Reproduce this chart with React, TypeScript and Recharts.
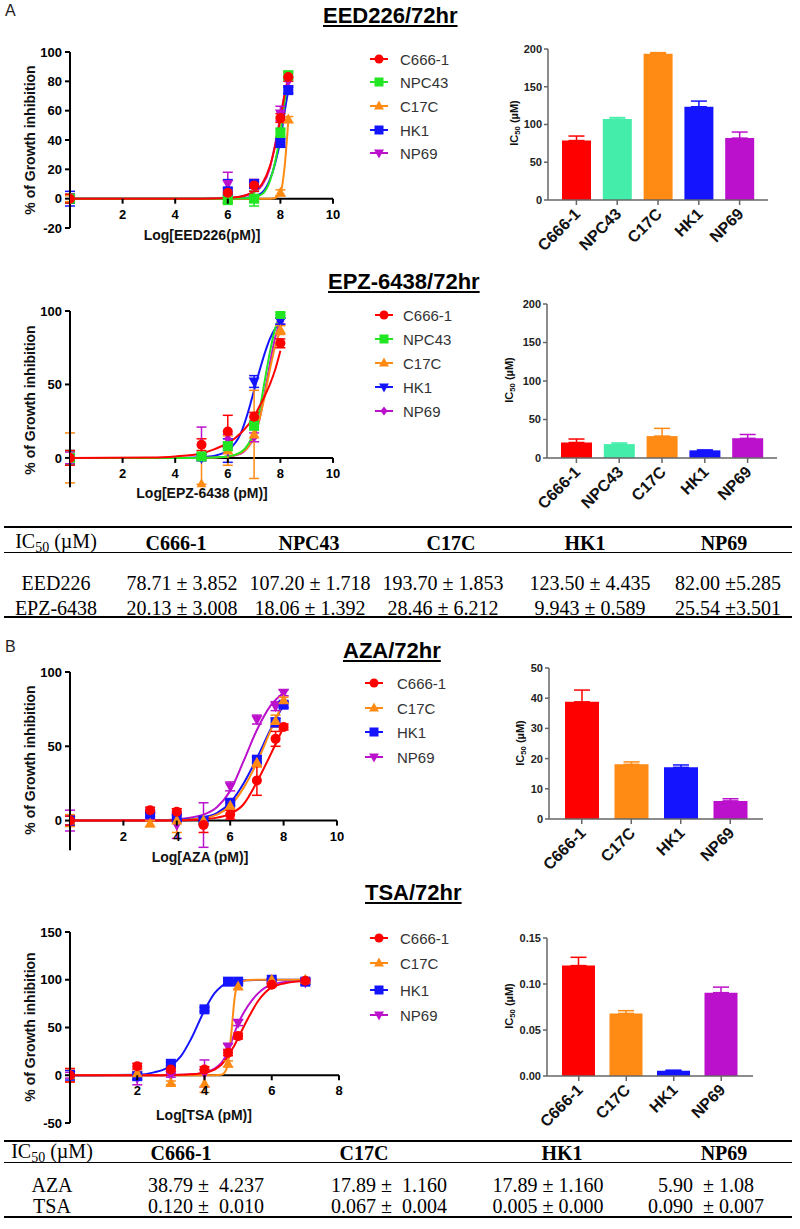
import React from 'react';
import { Bar, BarChart, Cell, ComposedChart, ErrorBar, Line, ReferenceLine, Scatter, XAxis, YAxis } from 'recharts';

const SANS = "Arial, 'Liberation Sans', sans-serif";
const SERIF = "'Times New Roman', 'Liberation Serif', serif";

const RED = '#ff0000';
const GREEN = '#22e622';
const MINT = '#44eeaa';
const ORANGE = '#ff8a14';
const BLUE = '#1414ff';
const PURPLE = '#bb11cc';
const AXIS_GREY = '#666666';

// ---- EED226 dose response ----
const eedLines = ['C666-1', 'NPC43', 'C17C', 'HK1', 'NP69'];
const eedDoses = [0, 6, 7, 8, 8.3];
const eedMean = [
  [0, 4, 9, 55, 83],
  [0, -1, 0, 45, 84],
  [0, 0, 0, 4, 54],
  [0, 5, 10, 38, 74],
  [0, 10, 9, 58, 80],
];
const eedErr = [
  [3, 3, 4, 3, 3],
  [3, 2, 5, 3, 3],
  [2, 2, 2, 2, 2],
  [5, 8, 3, 3, 2],
  [3, 8, 4, 5, 3],
];
const eedFitX = [0, 5, 6, 6.5, 7, 7.3, 7.6, 7.8, 8, 8.15, 8.3];
const eedFitY = [
  [0, 0, 0.5, 1.5, 5, 10, 22, 36, 54, 70, 83],
  [0, 0, 0, 0.2, 1, 3, 12, 25, 45, 65, 84],
  [0, 0, 0, 0, 0, 0, 0, 0.5, 4, 20, 53],
  [0, 0, 0, 0.3, 1.5, 4, 13, 24, 40, 58, 74],
  [0, 0, 0.5, 1.5, 4.5, 9, 21, 37, 56, 70, 81],
];
const eedIc50 = [78.71, 107.2, 193.7, 123.5, 82.0];
const eedIc50Err = [6, 2, 1.5, 7.5, 8];

// ---- EPZ-6438 dose response ----
const epzDoses = [0, 5, 6, 7, 8];
const epzMean = [
  [0, 9, 18, 28, 78],
  [0, 1, 8, 22, 98],
  [0, -18, 5, 16, 87],
  [0, 0, 5, 52, 93],
  [0, 10, 13, 14, 93],
];
const epzErr = [
  [5, 4, 11, 3, 3],
  [5, 2, 3, 3, 1],
  [17, [0, 17], 10, 30, 3],
  [5, 2, 8, 4, 2],
  [4, 11, 3, 3, 2],
];
const epzFitX = [0, 3, 4, 5, 5.5, 6, 6.5, 6.8, 7, 7.2, 7.4, 7.6, 7.8, 8];
const epzFitY = [
  [0, 0.3, 1, 3, 6, 10, 17, 23, 28, 35, 42, 50, 60, 73],
  [0, 0, 0, 0, 0.3, 1, 4, 10, 18, 32, 52, 72, 88, 97],
  [0, 0, 0, 0, 0.3, 1, 3.5, 8, 15, 26, 42, 60, 76, 87],
  [0, 0, 0, 0.5, 1.5, 5, 17, 33, 46, 59, 71, 81, 88, 93],
  [0, 0, 0, 0, 0.3, 1, 3, 8, 14, 26, 44, 64, 82, 93],
];
const epzIc50 = [20.13, 18.06, 28.46, 9.943, 25.54];
const epzIc50Err = [4.5, 1.5, 10, 0.5, 5];

// ---- AZA dose response ----
const hdLines = ['C666-1', 'C17C', 'HK1', 'NP69'];
const azaDoses = [0, 3, 4, 5, 6, 7, 7.7, 8];
const azaMean = [
  [0, 7, 6, -3, 4, 27, 55, 63],
  [0, -2, 0, 0, 10, 39, 67, 81],
  [0, 4.5, 2, 0, 12, 41, 66, 78],
  [0, 3, -3, -3, 23, 68, 77, 86],
];
const azaErr = [
  [3, 2, 2, 5, 3, 10, 5, 2],
  [4, 2, 8, 2, 2, 3, 4, 2],
  [3, 2, 2, 2, 2, 2, 3, 2],
  [7, 2, 9, 15, 3, 3, 3, 2],
];
const azaFitX = [0, 3, 4, 4.5, 5, 5.5, 6, 6.5, 7, 7.5, 8];
const azaFitY = [
  [0, 0, 0.2, 0.4, 0.9, 2, 4.5, 11, 26, 44, 63],
  [0, 0, 0.3, 0.7, 1.5, 4, 10, 22, 39, 60, 80],
  [0, 0, 0.5, 1, 2, 5, 12, 25, 42, 61, 78],
  [0, 0.1, 0.8, 2, 4, 9, 20, 40, 61, 77, 86],
];
const azaIc50 = [38.79, 18.1, 17.1, 6.0];
const azaIc50Err = [3.9, 0.8, 0.8, 0.7];

// ---- TSA dose response ----
const tsaDoses = [0, 2, 3, 4, 4.7, 5, 6, 7];
const tsaMean = [
  [0, 9.5, 6, 6, 23.5, 41, 94.7, 99],
  [0, 2, -8, -9, 12, 93, 100, 100],
  [0, -1, 12, 69, 98, 98, 100, 98],
  [0, -3, 0, 2, 30, 55, 97, 97],
];
const tsaErr = [
  [7, 3, 2, 3, 3, 3, 2, 2],
  [7, 2, 2, 9, 3, 3, 1, 1],
  [5, 3, 2, 2, 2, 2, 1, 2],
  [3, 7, 2, 14, 3, 3, 1, 2],
];
const tsaFitX = [0, 2, 2.5, 3, 3.3, 3.6, 4, 4.3, 4.5, 4.6, 4.7, 4.8, 4.9, 5, 5.3, 5.6, 6, 6.5, 7];
const tsaFitY = [
  [0, 0, 0, 0.2, 0.5, 1, 2.5, 6, 11, 15, 20, 26, 32, 39, 60, 78, 92, 97, 99],
  [0, 0, 0, 0, 0, 0, 0, 0, 0.5, 3, 12, 45, 82, 95, 99.7, 100, 100, 100, 100],
  [0, 0.5, 3, 10, 20, 38, 68, 86, 93, 95.5, 97, 98, 98.5, 99, 99.6, 99.8, 100, 100, 100],
  [0, 0, 0, 0.2, 0.5, 1, 3, 7, 13, 18, 26, 35, 45, 54, 73, 86, 95, 98, 99],
];
const tsaIc50 = [0.12, 0.068, 0.0058, 0.0906];
const tsaIc50Err = [0.009, 0.003, 0.0005, 0.006];

// ---- tables ----
const tableAHead = ['C666-1', 'NPC43', 'C17C', 'HK1', 'NP69'];
const tableARows = ['EED226', 'EPZ-6438'];
const tableAValues = [
  ['78.71 \u00b1 3.852', '107.20 \u00b1 1.718', '193.70 \u00b1 1.853', '123.50 \u00b1 4.435', '82.00 \u00b15.285'],
  ['20.13 \u00b1 3.008', '18.06 \u00b1 1.392', '28.46 \u00b1 6.212', '9.943 \u00b1 0.589', '25.54 \u00b13.501'],
];
const tableBHead = ['C666-1', 'C17C', 'HK1', 'NP69'];
const tableBRows = ['AZA', 'TSA'];
const tableBValues = [
  ['38.79 \u00b1  4.237', '17.89 \u00b1  1.160', '17.89 \u00b1 1.160', '5.90  \u00b1 1.08'],
  ['0.120 \u00b1  0.010', '0.067 \u00b1  0.004', '0.005 \u00b1 0.000', '0.090  \u00b1 0.007'],
];

type Kind = 'circle' | 'square' | 'up' | 'down' | 'diamond';

const Marker = ({ cx, cy, kind, color, s = 1 }: any) => {
  if (cx == null || cy == null) return null;
  const r = 5 * s;
  if (kind === 'circle') return <circle cx={cx} cy={cy} r={r} fill={color} />;
  if (kind === 'square') return <rect x={cx - r} y={cy - r} width={r * 2} height={r * 2} fill={color} />;
  if (kind === 'up')
    return <polygon points={`${cx},${cy - r * 1.2} ${cx + r * 1.1},${cy + r * 0.8} ${cx - r * 1.1},${cy + r * 0.8}`} fill={color} />;
  if (kind === 'down')
    return <polygon points={`${cx},${cy + r * 1.2} ${cx + r * 1.1},${cy - r * 0.8} ${cx - r * 1.1},${cy - r * 0.8}`} fill={color} />;
  return <polygon points={`${cx},${cy - r} ${cx + r * 0.8},${cy} ${cx},${cy + r} ${cx - r * 0.8},${cy}`} fill={color} />;
};

// x ticks hang from the zero line (GraphPad style), lifted up from the plot bottom
const XTick = ({ x, y, payload, lift }: any) => (
  <g>
    <line x1={x} x2={x} y1={y - lift} y2={y - lift + 5} stroke="#000" strokeWidth={2} />
    <text x={x} y={y - lift + 20} textAnchor="middle" fontSize={13} fontWeight={700} fontFamily={SANS} fill="#000">
      {payload.value}
    </text>
  </g>
);

function CurvePanel(props: any) {
  const { plot, xDomain, xTicks, yDomain, yTicks, doses, names, kinds, colors, mean, err, fitX, fitY } = props;
  const top = plot.top - 10;
  const width = plot.right + 20;
  const height = plot.bottom - top + 25;
  const plotH = plot.bottom - plot.top;
  const lift = (plotH * (0 - yDomain[0])) / (yDomain[1] - yDomain[0]);
  const order = names.map((_: string, i: number) => i).reverse();
  return (
    <div style={{ position: 'absolute', left: 0, top }}>
      <ComposedChart width={width} height={height} margin={{ top: 10, right: 20, bottom: 5, left: 10 }}>
        <XAxis
          type="number"
          dataKey="x"
          domain={xDomain}
          ticks={xTicks}
          interval={0}
          height={20}
          axisLine={false}
          tickLine={false}
          tickSize={0}
          tickMargin={0}
          allowDataOverflow
          tick={(p: any) => <XTick {...p} lift={lift} />}
        />
        <YAxis
          type="number"
          domain={yDomain}
          ticks={yTicks}
          interval={0}
          width={plot.left - 10}
          allowDataOverflow
          axisLine={{ stroke: '#000', strokeWidth: 2 }}
          tickLine={{ stroke: '#000', strokeWidth: 2 }}
          tickSize={5}
          tickMargin={3}
          tick={{ fontSize: 13, fontWeight: 700, fill: '#000', fontFamily: SANS }}
        />
        <ReferenceLine y={0} stroke="#000" strokeWidth={2} />
        {order.map((i: number) => (
          <Line
            key={'fit' + i}
            data={fitX.map((x: number, j: number) => ({ x, y: fitY[i][j] }))}
            dataKey="y"
            type="monotone"
            stroke={colors[i]}
            strokeWidth={2}
            dot={false}
            isAnimationActive={false}
          />
        ))}
        {order.map((i: number) => (
          <Scatter
            key={'pts' + i}
            data={doses.map((x: number, j: number) => ({ x, y: mean[i][j], e: err[i][j] }))}
            dataKey="y"
            fill={colors[i]}
            isAnimationActive={false}
            shape={(p: any) => <Marker cx={p.cx} cy={p.cy} kind={kinds[i]} color={colors[i]} />}
          >
            <ErrorBar dataKey="e" direction="y" width={5} stroke={colors[i]} strokeWidth={1.5} />
          </Scatter>
        ))}
      </ComposedChart>
    </div>
  );
}

const BarTick = ({ x, y, payload }: any) => (
  <text
    x={x + 5}
    y={y + 8}
    transform={`rotate(-45, ${x + 5}, ${y + 8})`}
    textAnchor="end"
    fontSize={16}
    fontWeight={700}
    fontFamily={SANS}
    fill="#111"
  >
    {payload.value}
  </text>
);

function BarPanel(props: any) {
  const { plot, names, values, errs, colors, yDomain, yTicks, barSize, fmt } = props;
  const left = plot.left - 60;
  const top = plot.top - 10;
  const width = plot.right - left + 15;
  const height = plot.bottom - top + 60;
  const rows = names.map((name: string, i: number) => ({ name, v: values[i], [`e${i}`]: [0, errs[i]] }));
  return (
    <div style={{ position: 'absolute', left, top }}>
      <BarChart width={width} height={height} data={rows} margin={{ top: 10, right: 15, left: 0, bottom: 0 }} barSize={barSize}>
        <XAxis
          dataKey="name"
          height={60}
          interval={0}
          padding={{ left: 8, right: 8 }}
          axisLine={{ stroke: AXIS_GREY, strokeWidth: 1.5 }}
          tickLine={{ stroke: AXIS_GREY, strokeWidth: 1.5 }}
          tickSize={5}
          tickMargin={2}
          tick={<BarTick />}
        />
        <YAxis
          width={60}
          domain={yDomain}
          ticks={yTicks}
          interval={0}
          tickFormatter={fmt}
          axisLine={{ stroke: AXIS_GREY, strokeWidth: 1.5 }}
          tickLine={{ stroke: AXIS_GREY, strokeWidth: 1.5 }}
          tickSize={4}
          tickMargin={2}
          tick={{ fontSize: 11, fontWeight: 700, fill: '#222', fontFamily: SANS }}
        />
        <Bar dataKey="v" isAnimationActive={false}>
          {names.map((n: string, i: number) => (
            <Cell key={n} fill={colors[i]} />
          ))}
          {names.map((n: string, i: number) => (
            <ErrorBar key={'err' + n} dataKey={`e${i}`} direction="y" width={8} stroke={colors[i]} strokeWidth={1.5} />
          ))}
        </Bar>
      </BarChart>
    </div>
  );
}

const Text = ({ x, y, children, size = 14, weight = 400, family = SANS, color = '#000', anchor = 'center', style = {} }: any) => (
  <div
    style={{
      position: 'absolute',
      left: x,
      top: y,
      transform: anchor === 'center' ? 'translate(-50%, -50%)' : 'translate(0, -50%)',
      fontSize: size,
      fontWeight: weight,
      fontFamily: family,
      color,
      lineHeight: 1,
      whiteSpace: 'pre',
      ...style,
    }}
  >
    {children}
  </div>
);

const VLabel = ({ x, y, children, size = 14 }: any) => (
  <div
    style={{
      position: 'absolute',
      left: x,
      top: y,
      transform: 'translate(-50%, -50%) rotate(-90deg)',
      fontSize: size,
      fontWeight: 700,
      fontFamily: SANS,
      whiteSpace: 'nowrap',
      lineHeight: 1,
      color: '#111',
    }}
  >
    {children}
  </div>
);

const Ic50Label = () => (
  <span>
    IC<sub style={{ fontSize: '0.7em', verticalAlign: '-0.25em' }}>50</sub> (µM)
  </span>
);

const Legend = ({ names, kinds, colors, x0, x1, textX, ys }: any) => (
  <>
    {names.map((n: string, i: number) => (
      <React.Fragment key={n}>
        <svg style={{ position: 'absolute', left: x0, top: ys[i] - 7 }} width={x1 - x0} height={14}>
          <line x1={0} x2={x1 - x0} y1={7} y2={7} stroke={colors[i]} strokeWidth={2} />
          <Marker cx={(x1 - x0) / 2} cy={7} kind={kinds[i]} color={colors[i]} s={0.9} />
        </svg>
        <Text x={textX} y={ys[i]} anchor="left" size={15} color="#333">
          {n}
        </Text>
      </React.Fragment>
    ))}
  </>
);

const Title = ({ x, y, children }: any) => (
  <Text x={x} y={y} anchor="left" size={22} weight={700} style={{ textDecoration: 'underline' }}>
    {children}
  </Text>
);

const Table = ({ top, headY, lineY, rowYs, bottom, labelX, headX, valX, head, rows, values }: any) => (
  <>
    <div style={{ position: 'absolute', left: 4, width: 788, top: top, height: 1.5, background: '#000' }} />
    <div style={{ position: 'absolute', left: 4, width: 788, top: lineY, height: 1, background: '#000' }} />
    <div style={{ position: 'absolute', left: 4, width: 788, top: bottom, height: 2, background: '#000' }} />
    <Text x={labelX} y={headY} size={20} family={SERIF}>
      <Ic50Label />
    </Text>
    {head.map((h: string, i: number) => (
      <Text key={h} x={headX[i]} y={headY} size={20} weight={700} family={SERIF}>
        {h}
      </Text>
    ))}
    {rows.map((r: string, ri: number) => (
      <React.Fragment key={r}>
        <Text x={labelX} y={rowYs[ri]} size={20} family={SERIF}>
          {r}
        </Text>
        {values[ri].map((v: string, ci: number) => (
          <Text key={ci} x={valX[ci]} y={rowYs[ri]} size={20} family={SERIF}>
            {v}
          </Text>
        ))}
      </React.Fragment>
    ))}
  </>
);

const kindsA1: Kind[] = ['circle', 'square', 'up', 'square', 'down'];
const kindsA2: Kind[] = ['circle', 'square', 'up', 'down', 'diamond'];
const kindsB: Kind[] = ['circle', 'up', 'square', 'down'];
const colorsA = [RED, GREEN, ORANGE, BLUE, PURPLE];
const barColorsA = [RED, MINT, ORANGE, BLUE, PURPLE];
const colorsB = [RED, ORANGE, BLUE, PURPLE];

export default function App() {
  return (
    <div style={{ position: 'absolute', left: 0, top: 0, width: 800, height: 1229, background: '#fff', overflow: 'hidden' }}>
      <Text x={5} y={11} anchor="left" size={16} color="#222">A</Text>
      <Title x={323} y={16}>EED226/72hr</Title>
      <CurvePanel
        plot={{ left: 70, right: 333, top: 52, bottom: 228 }}
        xDomain={[0, 10]}
        xTicks={[2, 4, 6, 8, 10]}
        yDomain={[-20, 100]}
        yTicks={[-20, 0, 20, 40, 60, 80, 100]}
        doses={eedDoses}
        names={eedLines}
        kinds={kindsA1}
        colors={colorsA}
        mean={eedMean}
        err={eedErr}
        fitX={eedFitX}
        fitY={eedFitY}
      />
      <VLabel x={30} y={140}>% of Growth inhibition</VLabel>
      <Text x={202} y={235} size={14} weight={700} color="#111">Log[EED226(pM)]</Text>
      <Legend names={eedLines} kinds={kindsA1} colors={colorsA} x0={370} x1={388} textX={400} ys={[59, 82, 106, 130, 153]} />
      <BarPanel
        plot={{ left: 548, right: 768, top: 49, bottom: 200 }}
        names={eedLines}
        values={eedIc50}
        errs={eedIc50Err}
        colors={barColorsA}
        yDomain={[0, 200]}
        yTicks={[0, 50, 100, 150, 200]}
        barSize={29}
      />
      <VLabel x={515} y={123} size={11}><Ic50Label /></VLabel>

      <Title x={328} y={282}>EPZ-6438/72hr</Title>
      <CurvePanel
        plot={{ left: 70, right: 333, top: 310.7, bottom: 487 }}
        xDomain={[0, 10]}
        xTicks={[2, 4, 6, 8, 10]}
        yDomain={[-20, 100]}
        yTicks={[0, 50, 100]}
        doses={epzDoses}
        names={eedLines}
        kinds={kindsA2}
        colors={colorsA}
        mean={epzMean}
        err={epzErr}
        fitX={epzFitX}
        fitY={epzFitY}
      />
      <VLabel x={30} y={400}>% of Growth inhibition</VLabel>
      <Text x={202} y={493} size={14} weight={700} color="#111">Log[EPZ-6438 (pM)]</Text>
      <Legend names={eedLines} kinds={kindsA2} colors={colorsA} x0={375} x1={393} textX={403} ys={[315, 339, 363, 387, 411]} />
      <BarPanel
        plot={{ left: 547, right: 777, top: 304, bottom: 458 }}
        names={eedLines}
        values={epzIc50}
        errs={epzIc50Err}
        colors={barColorsA}
        yDomain={[0, 200]}
        yTicks={[0, 50, 100, 150, 200]}
        barSize={31}
      />
      <VLabel x={510} y={380} size={11}><Ic50Label /></VLabel>

      <Table
        top={526}
        headY={543}
        lineY={552}
        rowYs={[583, 608]}
        bottom={616}
        labelX={56}
        headX={[176, 309, 451, 585, 724]}
        valX={[182, 310, 443, 590, 728]}
        head={tableAHead}
        rows={tableARows}
        values={tableAValues}
      />

      <Text x={5} y={647} anchor="left" size={16} color="#222">B</Text>
      <Title x={343} y={651}>AZA/72hr</Title>
      <CurvePanel
        plot={{ left: 70, right: 337, top: 671.7, bottom: 850 }}
        xDomain={[0, 10]}
        xTicks={[2, 4, 6, 8, 10]}
        yDomain={[-20, 100]}
        yTicks={[0, 50, 100]}
        doses={azaDoses}
        names={hdLines}
        kinds={kindsB}
        colors={colorsB}
        mean={azaMean}
        err={azaErr}
        fitX={azaFitX}
        fitY={azaFitY}
      />
      <VLabel x={30} y={760}>% of Growth inhibition</VLabel>
      <Text x={200} y={857} size={14} weight={700} color="#111">Log[AZA (pM)]</Text>
      <Legend names={hdLines} kinds={kindsB} colors={colorsB} x0={365} x1={383} textX={397} ys={[683, 708, 732, 757]} />
      <BarPanel
        plot={{ left: 549, right: 763, top: 668, bottom: 819 }}
        names={hdLines}
        values={azaIc50}
        errs={azaIc50Err}
        colors={colorsB}
        yDomain={[0, 50]}
        yTicks={[0, 10, 20, 30, 40, 50]}
        barSize={34}
      />
      <VLabel x={521} y={743} size={11}><Ic50Label /></VLabel>

      <Title x={365} y={893}>TSA/72hr</Title>
      <CurvePanel
        plot={{ left: 70, right: 339, top: 931.7, bottom: 1122.7 }}
        xDomain={[0, 8]}
        xTicks={[2, 4, 6, 8]}
        yDomain={[-50, 150]}
        yTicks={[-50, 0, 50, 100, 150]}
        doses={tsaDoses}
        names={hdLines}
        kinds={kindsB}
        colors={colorsB}
        mean={tsaMean}
        err={tsaErr}
        fitX={tsaFitX}
        fitY={tsaFitY}
      />
      <VLabel x={30} y={1027}>% of Growth inhibition</VLabel>
      <Text x={204} y={1115} size={14} weight={700} color="#111">Log[TSA (pM)]</Text>
      <Legend names={hdLines} kinds={kindsB} colors={colorsB} x0={370} x1={388} textX={400} ys={[938, 963, 990, 1015]} />
      <BarPanel
        plot={{ left: 547, right: 753, top: 938, bottom: 1076 }}
        names={hdLines}
        values={tsaIc50}
        errs={tsaIc50Err}
        colors={colorsB}
        yDomain={[0, 0.15]}
        yTicks={[0, 0.05, 0.1, 0.15]}
        barSize={33}
        fmt={(v: number) => v.toFixed(2)}
      />
      <VLabel x={510} y={1006} size={11}><Ic50Label /></VLabel>

      <Table
        top={1140}
        headY={1153}
        lineY={1162}
        rowYs={[1185, 1206]}
        bottom={1216}
        labelX={52}
        headX={[181, 364, 562, 724]}
        valX={[206, 389, 548, 706]}
        head={tableBHead}
        rows={tableBRows}
        values={tableBValues}
      />
    </div>
  );
}
